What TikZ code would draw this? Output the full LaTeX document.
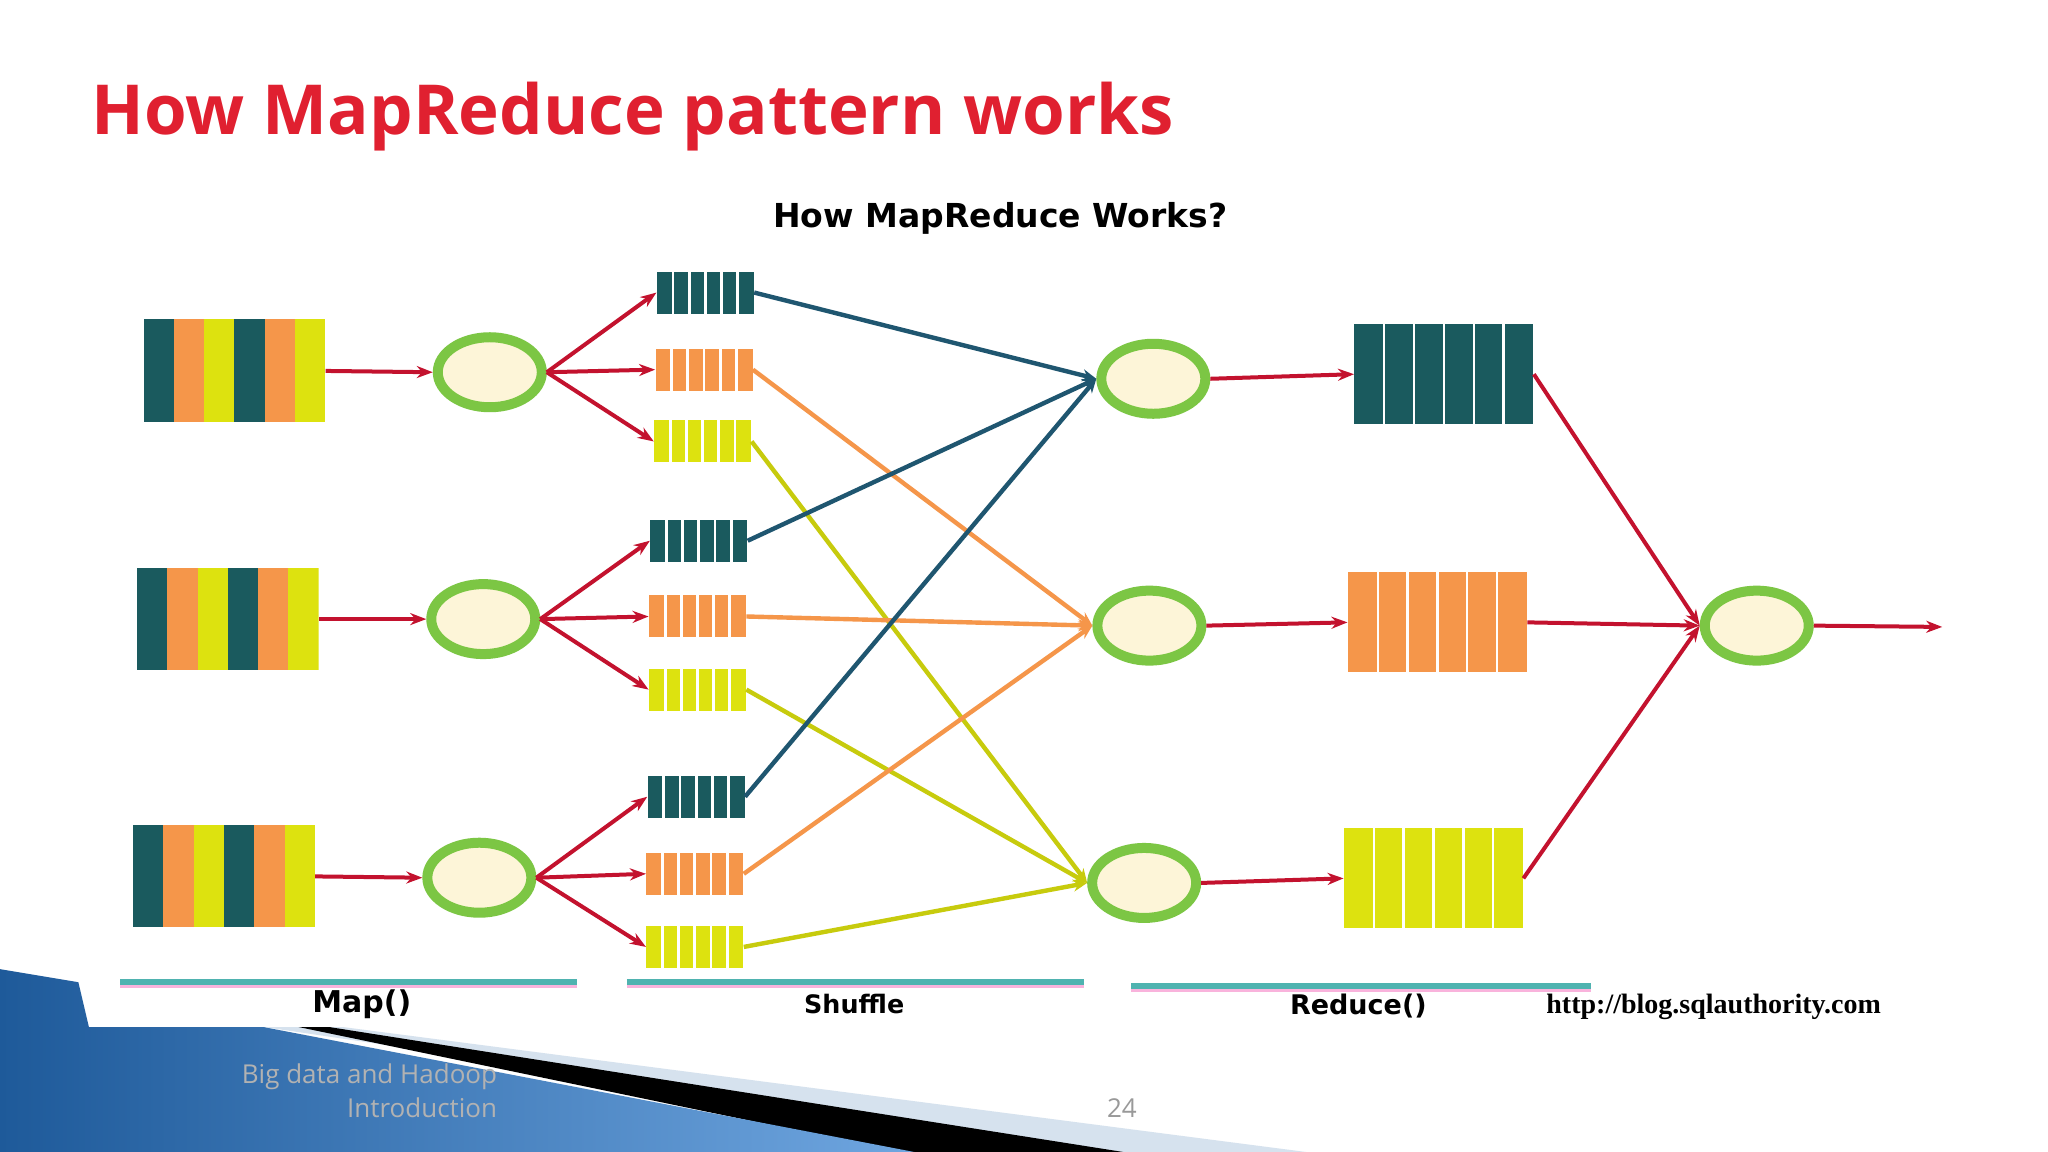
\documentclass[tikz,border=0pt]{standalone}
\usepackage{fontspec}
\setmainfont{DejaVu Sans}
\newfontfamily\arialb{DejaVu Sans}
\newfontfamily\noto{Open Sans}
\usetikzlibrary{shapes.geometric,arrows.meta,calc}
\definecolor{tealc}{HTML}{1A5A5E}
\definecolor{tealline}{HTML}{1F5670}
\definecolor{orangec}{HTML}{F5964A}
\definecolor{yellowc}{HTML}{DDE20F}
\definecolor{greenc}{HTML}{7CC644}
\definecolor{creamc}{HTML}{FDF5D8}
\definecolor{redc}{HTML}{C3122E}
\definecolor{titlec}{HTML}{E02030}
\definecolor{linec}{HTML}{4FB3B0}
\definecolor{blued}{HTML}{1E5A9A}
\definecolor{bluel}{HTML}{6FA6E0}
\definecolor{grayband}{HTML}{D6E2EE}
\tikzset{
  proc/.style={ellipse,draw=greenc,line width=5pt,fill=creamc,minimum width=52pt,minimum height=35pt,inner sep=0},
  bar/.style={rectangle,fill=#1,minimum width=48.5pt,minimum height=21pt,inner sep=0,
    path picture={\foreach \i in {1,...,5}{\draw[white,line width=1.4pt] ($(path picture bounding box.south west)!\i/6!(path picture bounding box.south east)$) -- ++(0,-40);}}},
  block/.style={rectangle,fill=#1,minimum width=89.5pt,minimum height=50pt,inner sep=0,
    path picture={\foreach \i in {1,...,5}{\draw[white,line width=1.2pt] ($(path picture bounding box.south west)!\i/6!(path picture bounding box.south east)$) -- ++(0,-90);}}},
  mixed/.style={rectangle,minimum width=90.8pt,minimum height=51pt,inner sep=0,
    path picture={\foreach \c [count=\i from 0] in {tealc,orangec,yellowc,tealc,orangec,yellowc}{\fill[\c] ($(path picture bounding box.south west)!\i/6!(path picture bounding box.south east)$) rectangle ++(23.17,-90);}}},
  rarr/.style={draw=redc,line width=2pt,-{Stealth[length=8pt,width=6pt]}},
  sh/.style={draw=#1,line width=2.2pt,-{Stealth[length=7pt,width=6pt]}},
  phase/.style={draw=linec,line width=3pt},
  lbl/.style={font=\arialb\bfseries\fontsize{12.7}{14}\selectfont},
}
\begin{document}
\begin{tikzpicture}[x=0.653pt,y=-0.653pt]
\useasboundingbox (0,0) rectangle (1568,882);
\fill[white] (0,0) rectangle (1568,882);
% bottom decoration
\fill[grayband] (200,786) -- (260,786) -- (1000,882) -- (850,882) -- cycle;
\fill[black] (150,770) -- (250,786) -- (860,882) -- (690,882) -- cycle;
\shade[left color=blued,right color=bluel] (0,742) -- (60,752) -- (68,786) -- (200,786) -- (700,882) -- (0,882) -- cycle;
\fill[white] (68,740) rectangle (1568,786);
% title
\node[anchor=base west,text=titlec,font=\noto\bfseries\fontsize{34.5}{40}\selectfont,inner sep=0] (title) at (70,103) {How MapReduce pattern works};
\node[font=\arialb\bfseries\fontsize{16.5}{19}\selectfont] (sub) at (766,167) {How MapReduce Works?};
% inputs
\node[mixed] (in1) at (179.5,284) {};
\node[mixed] (in2) at (174.5,474) {};
\node[mixed] (in3) at (171.5,671) {};
% mappers
\node[proc] (m1) at (375,285) {};
\node[proc] (m2) at (370,474) {};
\node[proc] (m3) at (367,672) {};
% bars
\node[bar=tealc] (t1) at (540,224) {};
\node[bar=orangec] (o1) at (539,283) {};
\node[bar=yellowc] (y1) at (538,338) {};
\node[bar=tealc] (t2) at (535,414) {};
\node[bar=orangec] (o2) at (534,472) {};
\node[bar=yellowc] (y2) at (534,528) {};
\node[bar=tealc] (t3) at (533,610) {};
\node[bar=orangec] (o3) at (532,669) {};
\node[bar=yellowc] (y3) at (532,725) {};
% reducers
\node[proc] (r1) at (883,290) {};
\node[proc] (r2) at (880,479) {};
\node[proc] (r3) at (876,676) {};
% outputs
\node[block=tealc] (q1) at (1105.5,286.5) {};
\node[block=orangec] (q2) at (1100.5,476.5) {};
\node[block=yellowc] (q3) at (1097.5,672.5) {};
\node[proc] (f) at (1345,479) {};
\coordinate (end) at (1487,480);
% map arrows
\foreach \k in {1,2,3}{
  \draw[rarr] (in\k.east) -- (m\k.west);
  \draw[rarr] (m\k.east) -- (t\k.west);
  \draw[rarr] (m\k.east) -- (o\k.west);
  \draw[rarr] (m\k.east) -- (y\k.west);
  \draw[rarr] (r\k.east) -- (q\k.west);
  \draw[rarr] (q\k.east) -- (f.west);
}
\draw[rarr] (f.east) -- (end);
% shuffle
\foreach \k in {1,2,3}{
  \draw[sh=yellowc!90!black] (y\k.east) -- (r3.west);
  \draw[sh=orangec] (o\k.east) -- (r2.west);
  \draw[sh=tealline] (t\k.east) -- (r1.west);
}
% phase lines
\draw[magenta!30,line width=2pt] (92,755) -- (442,755) (480,755) -- (830,755) (866,758) -- (1218,758);
\draw[phase] (92,752) -- (442,752) (480,752) -- (830,752) (866,755) -- (1218,755);
\node[lbl,font=\arialb\bfseries\fontsize{15}{17}\selectfont] (lmap) at (277,769) {Map()};
\node[lbl] (lsh) at (654,769) {Shuffle};
\node[lbl,font=\arialb\bfseries\fontsize{13.5}{15}\selectfont] (lred) at (1040,770) {Reduce()};
\node[font=\fontspec{Liberation Serif}\bfseries\fontsize{14}{16}\selectfont] (url) at (1312,771) {http://blog.sqlauthority.com};
% footer
\node[align=right,anchor=east,text=gray!60,font=\noto\fontsize{13}{17}\selectfont] (foot) at (386,835) {Big data and Hadoop\\Introduction};
\node[text=gray!80,font=\noto\fontsize{13}{17}\selectfont] (pg) at (859,848) {24};
\end{tikzpicture}
\end{document}
